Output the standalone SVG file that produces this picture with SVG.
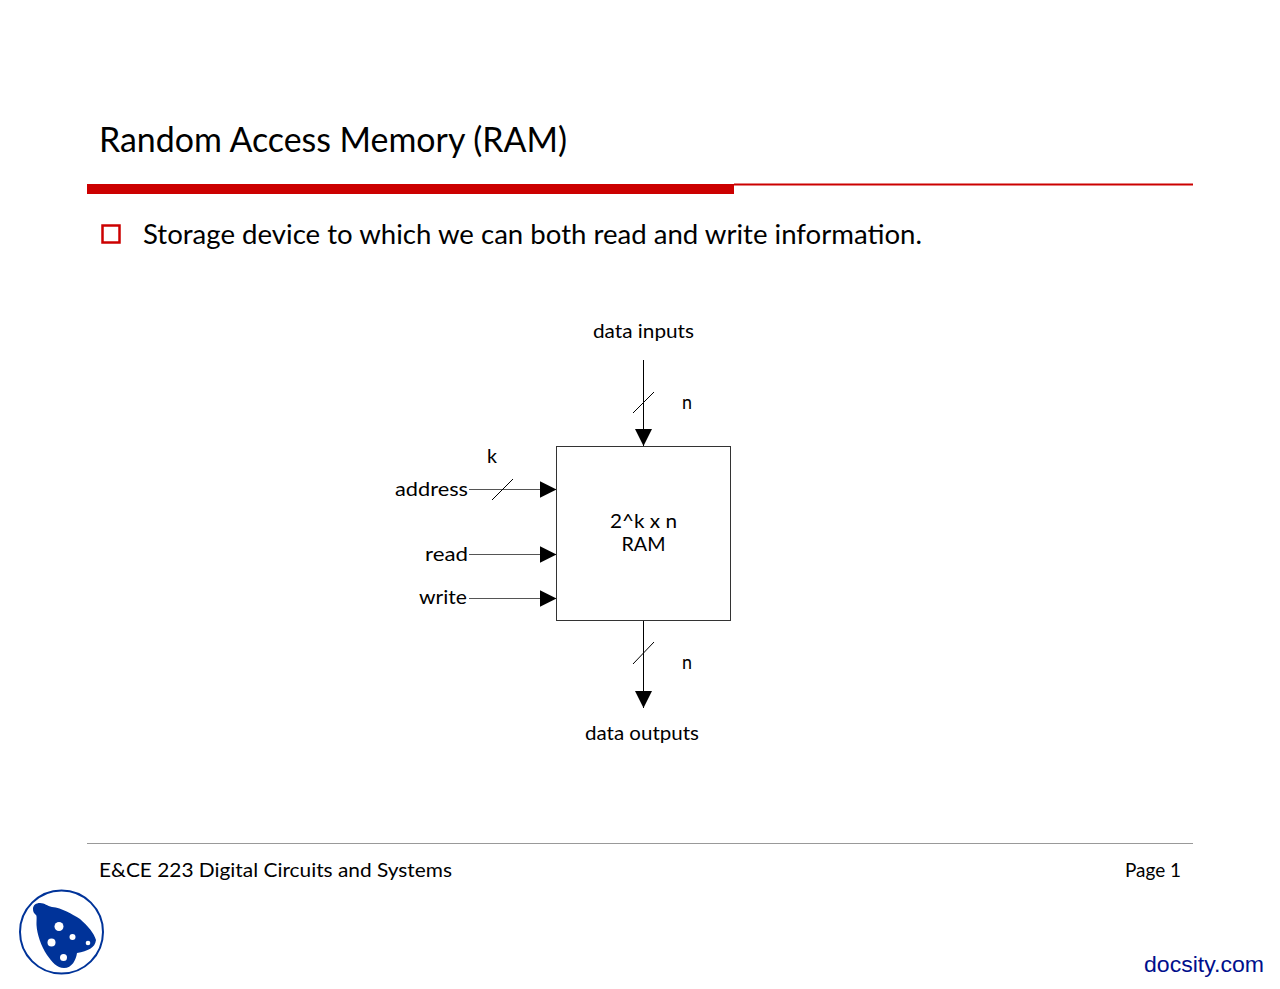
<svg xmlns="http://www.w3.org/2000/svg" width="1280" height="989" viewBox="0 0 1280 989">
<style>
text{font-family:"Lato","Open Sans","Liberation Sans",sans-serif;fill:#000}
.l{font-size:20px}
.w{stroke:#000;stroke-width:1;fill:none}
.g{stroke:#555;stroke-width:1;fill:none}
</style>
<defs>
<marker id="a" markerUnits="userSpaceOnUse" markerWidth="18" markerHeight="18" refX="17" refY="8.500" orient="auto"><path d="M0 0L17 8.500L0 17Z" fill="#000"/></marker>
</defs>
<rect width="1280" height="989" fill="#fff"/>
<g id="header">
<text x="99" y="152" font-size="35" textLength="468" lengthAdjust="spacingAndGlyphs">Random Access Memory (RAM)</text>
<rect x="87" y="184" width="647" height="10" fill="#cc0000"/>
<rect x="734" y="183.500" width="459" height="2" fill="#cc0000"/>
<rect x="102.500" y="225.500" width="17" height="17" fill="none" stroke="#cc0000" stroke-width="2.500"/>
<text x="143" y="244" font-size="27" textLength="779" lengthAdjust="spacingAndGlyphs">Storage device to which we can both read and write information.</text>
</g>
<g id="connectors">
<path class="w" d="M643.500 360V446" marker-end="url(#a)"/>
<path class="w" d="M633 413L654 392"/>
<path class="g" d="M469 489.500H556.500" marker-end="url(#a)"/>
<path class="w" d="M492 500L513 479"/>
<path class="g" d="M469 554.500H556.500" marker-end="url(#a)"/>
<path class="g" d="M469 598.500H556.500" marker-end="url(#a)"/>
<path class="w" d="M643.500 620V708" marker-end="url(#a)"/>
<path class="w" d="M633 664L654 642"/>
</g>
<g id="ram">
<rect x="556.500" y="446.500" width="174" height="174" fill="none" stroke="#333" stroke-width="1"/>
<text x="643.500" y="528" class="l" text-anchor="middle" textLength="67" lengthAdjust="spacingAndGlyphs">2^k x n</text>
<text x="643.500" y="551" class="l" text-anchor="middle" textLength="44" lengthAdjust="spacingAndGlyphs">RAM</text>
</g>
<g id="labels">
<text x="593" y="338" class="l" textLength="101" lengthAdjust="spacingAndGlyphs">data inputs</text>
<text x="682" y="409" class="l" textLength="10" lengthAdjust="spacingAndGlyphs">n</text>
<text x="487" y="463" class="l" textLength="10" lengthAdjust="spacingAndGlyphs">k</text>
<text x="395" y="496" class="l" textLength="73" lengthAdjust="spacingAndGlyphs">address</text>
<text x="425" y="561" class="l" textLength="43" lengthAdjust="spacingAndGlyphs">read</text>
<text x="419" y="604" class="l" textLength="48" lengthAdjust="spacingAndGlyphs">write</text>
<text x="682" y="669" class="l" textLength="10" lengthAdjust="spacingAndGlyphs">n</text>
<text x="585" y="740" class="l" textLength="114" lengthAdjust="spacingAndGlyphs">data outputs</text>
</g>
<g id="footer">
<rect x="87" y="843" width="1106" height="1" fill="#999"/>
<text x="99" y="877" class="l" textLength="353" lengthAdjust="spacingAndGlyphs">E&amp;CE 223 Digital Circuits and Systems</text>
<text x="1125" y="877" class="l" textLength="56" lengthAdjust="spacingAndGlyphs">Page 1</text>
</g>
<g id="logo">
<ellipse cx="61.500" cy="932" rx="41.500" ry="41.500" fill="none" stroke="#003399" stroke-width="2"/>
<path d="M33 909C33 905 36 903 40 903C45 903 47 906 52 907C62 908 72 914 80 919C88 926 94 933 96 940C95 948 88 951 77 953C76 960 72 968 64 968C57 968 52 962 47 955C41 946 37 934 36.500 925C36.500 920 37 916 36 915C34 913 33 912 33 909Z" fill="#003399"/>
<circle cx="59" cy="926.500" r="4.500" fill="#fff"/>
<circle cx="72.500" cy="937" r="3" fill="#fff"/>
<circle cx="51.500" cy="942.500" r="4" fill="#fff"/>
<circle cx="88" cy="943" r="2.300" fill="#fff"/>
<circle cx="63.500" cy="957.500" r="3.500" fill="#fff"/>
</g>
<text id="watermark" x="1144" y="972" font-size="22" textLength="120" lengthAdjust="spacingAndGlyphs" style="font-family:'Liberation Sans',Arial,sans-serif;fill:#000f8c">docsity.com</text>
</svg>
